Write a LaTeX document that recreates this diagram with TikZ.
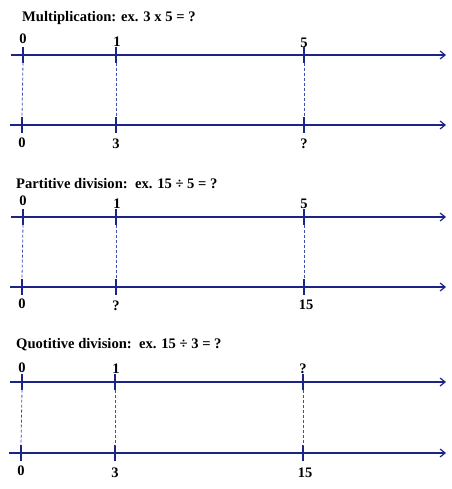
\documentclass[tikz,border=0pt]{standalone}
\usepackage{fontspec}
\setmainfont{Liberation Serif}
\usetikzlibrary{arrows.meta,positioning}
\definecolor{lineblue}{RGB}{28,36,135}
\definecolor{dashblue}{RGB}{60,80,175}

\begin{document}
\begin{tikzpicture}[x=1pt,y=1pt,
		axis/.style={draw=lineblue, line width=1.6pt, -{Straight Barb[length=5pt,width=8pt,line width=1.2pt]}},
		tick/.style={inner sep=0pt, minimum height=15pt, minimum width=0pt},
		tickline/.style={draw=lineblue, line width=1.6pt},
		link/.style={draw=dashblue, line width=0.8pt, dash pattern=on 3pt off 2pt},
		num/.style={font=\fontsize{14.5}{14.5}\selectfont\bfseries, inner sep=0pt, anchor=base},
		title/.style={font=\fontsize{14.6}{14.6}\selectfont\bfseries, inner sep=0pt, anchor=base west}]
	\useasboundingbox (0,0) rectangle (451,-489);

	% multiplication
	\node[title] (mtitle) at (22,-22) {Multiplication: ex. 3 x 5 = ?};
	\coordinate (mtopL) at (11,-55); \coordinate (mtopR) at (446,-55);
	\coordinate (mbotL) at (10,-125); \coordinate (mbotR) at (446,-125);
	\draw[axis] (mtopL) -- (mtopR);
	\draw[axis] (mbotL) -- (mbotR);
	\node[tick] (mt0) at (23,-55) {};
	\node[tick] (mt1) at (116,-55) {};
	\node[tick] (mt5) at (304,-55) {};
	\node[tick] (mb0) at (22,-125) {};
	\node[tick] (mb3) at (116,-125) {};
	\node[tick] (mbq) at (304,-125) {};
	\foreach \t in {mt0,mt1,mt5,mb0,mb3,mbq} \draw[tickline] (\t.north) -- (\t.south);
	\draw[link] (mt0.south) -- (mb0.north);
	\draw[link] (mt1.south) -- (mb3.north);
	\draw[link] (mt5.south) -- (mbq.north);
	\node[num] (mlt0) at (23,-44) {0};
	\node[num] (mlt1) at (117,-47) {1};
	\node[num] (mlt5) at (304,-48) {5};
	\node[num] (mlb0) at (22,-147) {0};
	\node[num] (mlb3) at (116,-149) {3};
	\node[num] (mlbq) at (304,-149) {?};

	% partitive division
	\node[title] (ptitle) at (16,-188) {Partitive division:\ \ ex. 15 ÷ 5 = ?};
	\coordinate (ptopL) at (11,-217); \coordinate (ptopR) at (446,-217);
	\coordinate (pbotL) at (10,-287); \coordinate (pbotR) at (446,-287);
	\draw[axis] (ptopL) -- (ptopR);
	\draw[axis] (pbotL) -- (pbotR);
	\node[tick] (pt0) at (23,-217) {};
	\node[tick] (pt1) at (116,-217) {};
	\node[tick] (pt5) at (304,-217) {};
	\node[tick] (pb0) at (22,-287) {};
	\node[tick] (pbq) at (116,-287) {};
	\node[tick] (pb15) at (304,-287) {};
	\foreach \t in {pt0,pt1,pt5,pb0,pbq,pb15} \draw[tickline] (\t.north) -- (\t.south);
	\draw[link] (pt0.south) -- (pb0.north);
	\draw[link] (pt1.south) -- (pbq.north);
	\draw[link] (pt5.south) -- (pb15.north);
	\node[num] (plt0) at (23,-205) {0};
	\node[num] (plt1) at (117,-208) {1};
	\node[num] (plt5) at (304,-208) {5};
	\node[num] (plb0) at (22,-308) {0};
	\node[num] (plbq) at (116,-310) {?};
	\node[num] (plb15) at (306,-309) {15};

	% quotitive division
	\node[title] (qtitle) at (16,-348) {Quotitive division:\ \ ex. 15 ÷ 3 = ?};
	\coordinate (qtopL) at (10,-382); \coordinate (qtopR) at (446,-382);
	\coordinate (qbotL) at (9,-453); \coordinate (qbotR) at (446,-453);
	\draw[axis] (qtopL) -- (qtopR);
	\draw[axis] (qbotL) -- (qbotR);
	\node[tick] (qt0) at (22,-382) {};
	\node[tick] (qt1) at (115,-382) {};
	\node[tick] (qtq) at (303,-382) {};
	\node[tick] (qb0) at (21,-453) {};
	\node[tick] (qb3) at (115,-453) {};
	\node[tick] (qb15) at (303,-453) {};
	\foreach \t in {qt0,qt1,qtq,qb0,qb3,qb15} \draw[tickline] (\t.north) -- (\t.south);
	\draw[link] (qt0.south) -- (qb0.north);
	\draw[link] (qt1.south) -- (qb3.north);
	\draw[link] (qtq.south) -- (qb15.north);
	\node[num] (qlt0) at (22,-372) {0};
	\node[num] (qlt1) at (116,-373) {1};
	\node[num] (qltq) at (303,-373) {?};
	\node[num] (qlb0) at (21,-475) {0};
	\node[num] (qlb3) at (115,-477) {3};
	\node[num] (qlb15) at (305,-477) {15};
\end{tikzpicture}
\end{document}
